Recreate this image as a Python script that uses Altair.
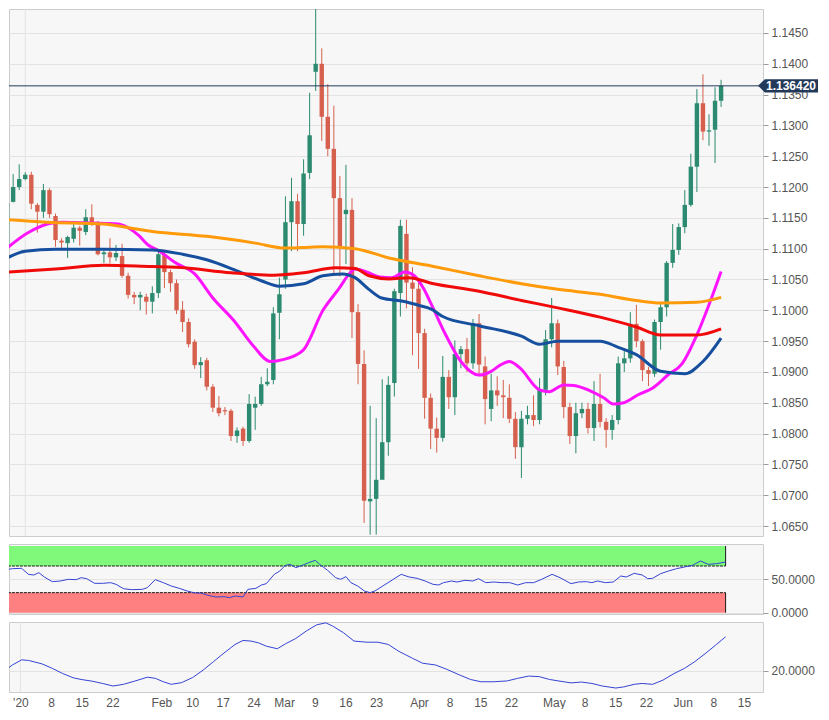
import json
import altair as alt
import pandas as pd

# ---------------- data (EUR/USD daily, 27 Dec 2019 - 10 Jun 2020) ----------------
opens = [1.1108, 1.1176, 1.1200, 1.1213, 1.1220, 1.1171, 1.1160, 1.1195, 1.1153, 1.1113,
         1.1109, 1.1116, 1.1134, 1.1127, 1.1151, 1.1141, 1.1091, 1.1094, 1.1086, 1.1088,
         1.1056, 1.1025, 1.1021, 1.1022, 1.1014, 1.1028, 1.1091, 1.1062, 1.1044, 1.1001,
         1.0981, 1.0949, 1.0911, 1.0919, 1.0876, 1.0842, 1.0838, 1.0837, 1.0796, 1.0808,
         1.0788, 1.0842, 1.0848, 1.0880, 1.0887, 1.0996, 1.1050, 1.1143, 1.1177, 1.1140,
         1.1223, 1.1387, 1.1400, 1.1314, 1.1262, 1.1182, 1.1156, 1.1163, 1.0997, 1.0913,
         1.0690, 1.0694, 1.0725, 1.0786, 1.0882, 1.1028, 1.1124, 1.1045, 1.1035, 1.0963,
         1.0858, 1.0808, 1.0793, 1.0892, 1.0859, 1.0929, 1.0937, 1.0914, 1.0979, 1.0909,
         1.0840, 1.0870, 1.0862, 1.0858, 1.0824, 1.0778, 1.0824, 1.0830, 1.0822, 1.0871,
         1.0953, 1.0979, 1.0908, 1.0843, 1.0796, 1.0833, 1.0840, 1.0809, 1.0848, 1.0819,
         1.0806, 1.0822, 1.0914, 1.0922, 1.0978, 1.0950, 1.0903, 1.0897, 1.0981, 1.1005,
         1.1077, 1.1098, 1.1135, 1.1171, 1.1233, 1.1336, 1.1290, 1.1293, 1.1340]
highs = [1.1188, 1.1221, 1.1237, 1.1224, 1.1225, 1.1174, 1.1205, 1.1198, 1.1157, 1.1117,
         1.1121, 1.1145, 1.1137, 1.1164, 1.1172, 1.1145, 1.1100, 1.1117, 1.1106, 1.1108,
         1.1061, 1.1030, 1.1030, 1.1027, 1.1039, 1.1095, 1.1096, 1.1066, 1.1050, 1.1015,
         1.0987, 1.0953, 1.0924, 1.0923, 1.0880, 1.0861, 1.0843, 1.0840, 1.0810, 1.0811,
         1.0864, 1.0860, 1.0892, 1.0906, 1.1005, 1.1053, 1.1185, 1.1215, 1.1189, 1.1245,
         1.1353, 1.1495, 1.1425, 1.1367, 1.1332, 1.1218, 1.1236, 1.1182, 1.1010, 1.0935,
         1.0845, 1.0825, 1.0888, 1.0893, 1.1035, 1.1147, 1.1147, 1.1070, 1.1045, 1.0970,
         1.0865, 1.0826, 1.0926, 1.0903, 1.0951, 1.0942, 1.0955, 1.0986, 1.0994, 1.0925,
         1.0897, 1.0893, 1.0887, 1.0880, 1.0835, 1.0837, 1.0845, 1.0862, 1.0890, 1.0968,
         1.1020, 1.0985, 1.0918, 1.0850, 1.0850, 1.0850, 1.0850, 1.0885, 1.0897, 1.0825,
         1.0830, 1.0925, 1.0935, 1.0997, 1.1009, 1.0953, 1.0908, 1.0985, 1.1010, 1.1080,
         1.1140, 1.1141, 1.1195, 1.1254, 1.1359, 1.1383, 1.1318, 1.1362, 1.1374]
lows = [1.1100, 1.1175, 1.1195, 1.1211, 1.1164, 1.1126, 1.1150, 1.1150, 1.1103, 1.1101,
        1.1085, 1.1110, 1.1105, 1.1122, 1.1137, 1.1089, 1.1077, 1.1076, 1.1080, 1.1053,
        1.1019, 1.1010, 1.1000, 1.0993, 1.0995, 1.1020, 1.1036, 1.1030, 1.0994, 1.0965,
        1.0940, 1.0905, 1.0890, 1.0870, 1.0835, 1.0828, 1.0830, 1.0788, 1.0785, 1.0780,
        1.0785, 1.0806, 1.0845, 1.0877, 1.0880, 1.0953, 1.1035, 1.1096, 1.1096, 1.1121,
        1.1213, 1.1356, 1.1275, 1.1250, 1.1059, 1.1055, 1.1075, 1.0955, 1.0880, 1.0655,
        1.0636, 1.0636, 1.0751, 1.0764, 1.0860, 1.0990, 1.1003, 1.0927, 1.0905, 1.0824,
        1.0775, 1.0769, 1.0787, 1.0840, 1.0830, 1.0906, 1.0900, 1.0905, 1.0893, 1.0815,
        1.0820, 1.0845, 1.0825, 1.0817, 1.0759, 1.0728, 1.0815, 1.0812, 1.0815, 1.0862,
        1.0940, 1.0895, 1.0825, 1.0783, 1.0768, 1.0825, 1.0800, 1.0788, 1.0810, 1.0777,
        1.0790, 1.0815, 1.0900, 1.0915, 1.0940, 1.0885, 1.0877, 1.0892, 1.0936, 1.0990,
        1.1069, 1.1090, 1.1125, 1.1168, 1.1192, 1.1276, 1.1267, 1.1239, 1.1330]
closes = [1.1174, 1.1200, 1.1213, 1.1220, 1.1173, 1.1160, 1.1195, 1.1156, 1.1114, 1.1110,
          1.1119, 1.1134, 1.1129, 1.1151, 1.1141, 1.1091, 1.1094, 1.1086, 1.1093, 1.1056,
          1.1025, 1.1021, 1.1025, 1.1014, 1.1028, 1.1091, 1.1062, 1.1044, 1.1000, 1.0981,
          1.0945, 1.0911, 1.0916, 1.0876, 1.0842, 1.0833, 1.0836, 1.0796, 1.0805, 1.0788,
          1.0848, 1.0848, 1.0880, 1.0884, 1.0995, 1.1026, 1.1143, 1.1177, 1.1140, 1.1222,
          1.1284, 1.1400, 1.1314, 1.1262, 1.1182, 1.1102, 1.1163, 1.0997, 1.0913, 1.0691,
          1.0694, 1.0725, 1.0786, 1.0879, 1.1031, 1.1137, 1.1045, 1.1035, 1.0963, 1.0858,
          1.0808, 1.0793, 1.0892, 1.0859, 1.0929, 1.0937, 1.0914, 1.0979, 1.0912, 1.0856,
          1.0870, 1.0862, 1.0859, 1.0824, 1.0778, 1.0824, 1.0830, 1.0822, 1.0871, 1.0953,
          1.0979, 1.0909, 1.0843, 1.0796, 1.0833, 1.0840, 1.0809, 1.0848, 1.0819, 1.0806,
          1.0822, 1.0914, 1.0922, 1.0978, 1.0950, 1.0903, 1.0897, 1.0981, 1.1005, 1.1077,
          1.1098, 1.1135, 1.1171, 1.1233, 1.1336, 1.1290, 1.1292, 1.1340, 1.13642]

last_price = 1.13642
last_label = "1.136420"
last_i = 118
year_i = 3

price_ticks = [1.0650, 1.0700, 1.0750, 1.0800, 1.0850, 1.0900, 1.0950, 1.1000, 1.1050,
               1.1100, 1.1150, 1.1200, 1.1250, 1.1300, 1.1350, 1.1400, 1.1450]
tick_idx = [3, 8, 13, 18, 26, 31, 36, 41, 46, 51, 56, 61, 68, 73, 78, 83, 90, 95, 100, 105, 111, 116, 121]
tick_lab = ["'20", "8", "15", "22", "Feb", "10", "17", "24", "Mar", "9", "16", "23",
            "Apr", "8", "15", "22", "May", "8", "15", "22", "Jun", "8", "15"]

# moving averages
ma20_i = [0, 3.3, 7, 9.3, 12.5, 16.3, 18.4, 20, 21.7, 23.3, 25, 27.7, 31, 34, 37.5, 40.7, 43.5, 45.6,
          48.9, 52.2, 54.9, 56.7, 57.5, 59.5, 61.6, 63.6, 65.7, 67.3, 68.9, 70, 72.5, 75, 78, 80,
          81.5, 83, 84.7, 88, 89.6, 92, 93.7, 96, 98.6, 100.2, 101.9, 104.3, 106.7, 109.2, 111.6,
          114, 116, 118]
ma20_v = [1.1101, 1.1125, 1.1141, 1.1143, 1.1142, 1.1141, 1.1140, 1.1134, 1.1122, 1.1106, 1.1097,
          1.1078, 1.1059, 1.1020, 1.0983, 1.0942, 1.0917, 1.0920, 1.0935, 1.1000, 1.1036, 1.1061,
          1.1067, 1.1062, 1.1054, 1.1053, 1.1062, 1.1056, 1.1034, 1.1012, 1.0960, 1.0917, 1.0895,
          1.0901, 1.0911, 1.0917, 1.0907, 1.0871, 1.0868, 1.0879, 1.0878, 1.0871, 1.0858, 1.0848,
          1.0850, 1.0863, 1.0874, 1.0895, 1.0914, 1.0960, 1.1009, 1.1063]
ma50_i = [0, 3, 8, 16, 24, 29, 33, 38, 42, 45, 49, 52.2, 55.4, 57.5, 59.8, 61.9, 65.2, 68.4, 70.1,
          72, 78, 85, 88, 91, 98, 101, 104, 108, 112, 115, 118]
ma50_v = [1.1085, 1.1096, 1.1099, 1.1099, 1.1098, 1.1091, 1.1082, 1.1064, 1.1048, 1.1039, 1.1043,
          1.1056, 1.1059, 1.1053, 1.1034, 1.1020, 1.1015, 1.1007, 1.1002, 1.0990, 1.0975, 1.0958,
          1.0945, 1.0950, 1.0950, 1.0940, 1.0928, 1.0901, 1.0897, 1.0917, 1.0955]
ma100_i = [0, 8, 16, 24, 28, 37, 44, 49, 54.3, 57.5, 59.8, 63.1, 66.4, 70.1, 78, 85, 91, 98, 104,
           108, 114, 118]
ma100_v = [1.1062, 1.1067, 1.1073, 1.1071, 1.1070, 1.1061, 1.1057, 1.1061, 1.1069, 1.1068, 1.1056,
           1.1051, 1.1053, 1.1044, 1.1031, 1.1016, 1.1004, 1.0989, 1.0973, 1.0960, 1.0960, 1.0970]
ma200_i = [0, 6.5, 16, 20, 24, 33, 41, 46, 49, 52.2, 57.5, 63.1, 70.1, 78, 85, 91, 98, 104, 108,
           114, 118]
ma200_v = [1.1147, 1.1143, 1.1140, 1.1134, 1.1128, 1.1120, 1.1109, 1.1101, 1.1102, 1.1103, 1.1100,
           1.1085, 1.1072, 1.1056, 1.1043, 1.1034, 1.1026, 1.1016, 1.1012, 1.1013, 1.1021]

# RSI panel
rsi_i = [0.0, 1.7, 3.2, 4.3, 5.2, 6.0, 6.9, 8.2, 9.5, 10.8, 12.1, 12.9, 13.8, 15.1, 16.4, 17.7, 18.6,
         19.8, 21.1, 22.9, 23.7, 25.0, 26.3, 27.6, 28.9, 30.2, 31.5, 32.4, 33.6, 34.9, 36.2, 37.1,
         38.0, 39.3, 40.1, 41.4, 42.3, 43.1, 44.4, 45.3, 46.2, 47.0, 47.9, 48.7, 50.0, 51.1, 51.8,
         53.1, 54.4, 55.2, 56.1, 56.9, 58.0, 59.1, 60.0, 60.8, 62.1, 63.8, 65.1, 66.4, 67.7, 69.0,
         70.3, 71.2, 72.0, 73.3, 74.2, 75.5, 76.8, 77.7, 78.9, 80.2, 81.5, 82.8, 84.1, 85.4, 86.7,
         88.0, 89.7, 91.0, 92.8, 94.0, 95.3, 96.2, 97.1, 98.4, 99.7, 100.9, 101.8, 103.1, 104.4,
         105.3, 106.1, 107.4, 108.7, 110.0, 111.3, 112.6, 113.9, 115.2, 116.5, 118.0]
rsi_v = [63.5, 66, 66.5, 57.5, 56.5, 60, 53.5, 46.5, 47.5, 50, 49.5, 52.5, 51, 44, 44, 45, 42.5, 36,
         34.5, 35, 37.5, 49.5, 45, 40, 36.5, 32.5, 29.5, 29.5, 26, 23.5, 24, 22.5, 25, 23.5, 35, 36.5,
         41.5, 43.5, 57.5, 62.5, 71, 72.5, 67.5, 70, 75, 78.5, 72.5, 63.5, 52.5, 50, 54, 45, 40, 32.5,
         30, 32.5, 40, 50, 57.5, 53.5, 51.5, 47.5, 42.5, 41.5, 45, 47.5, 46, 48.5, 47.5, 51, 45, 46,
         45, 45, 41.5, 45, 45, 50, 57.5, 52.5, 43.5, 46, 46.5, 45, 47.5, 45, 46, 55, 53.5, 59, 56.5,
         51, 51.5, 58.5, 62.5, 66, 68.5, 71, 77.5, 72.5, 73.5, 76]
band_lo = [70, 0]
band_hi = [100, 30]
band_edge = [70, 30]
band_name = ["overbought", "oversold"]

# ADX panel
adx_i = [0.0, 1.7, 3.2, 4.3, 6.5, 8.2, 9.9, 11.6, 12.9, 14.7, 16.4, 18.1, 19.8, 21.6, 23.7, 25.0,
         26.3, 27.6, 29.3, 31.1, 32.8, 34.5, 36.2, 38.0, 39.3, 40.6, 41.8, 43.1, 44.9, 46.2, 47.9,
         49.6, 51.3, 52.8, 53.9, 55.7, 57.4, 59.5, 61.3, 63.0, 64.7, 66.9, 68.6, 70.7, 72.5, 74.6,
         76.4, 78.1, 80.2, 82.4, 84.1, 85.9, 87.6, 89.3, 91.0, 92.8, 94.5, 96.2, 97.9, 100.1, 101.4,
         103.1, 104.4, 106.1, 107.8, 109.6, 111.3, 113.0, 114.8, 116.5, 118.0]
adx_v = [19.3, 22.0, 23.8, 23.6, 22.4, 20.8, 19.0, 17.5, 16.9, 16.3, 15.5, 14.6, 15.2, 16.3, 17.7,
         17.3, 16.1, 15.2, 15.8, 17.6, 20.2, 23.2, 26.2, 29.2, 30.6, 30.4, 29.8, 28.6, 27.7, 29.4,
         31.3, 33.9, 36.1, 36.8, 35.7, 33.3, 30.4, 30.0, 30.0, 29.2, 26.8, 24.4, 22.6, 22.0, 20.5,
         18.5, 16.9, 16.1, 16.1, 16.4, 17.3, 18.1, 17.9, 16.9, 16.3, 15.7, 16.0, 15.5, 14.6, 13.9,
         14.3, 15.2, 15.5, 15.2, 16.7, 19.0, 20.8, 23.2, 26.2, 29.2, 31.9]

# ---------------- styling ----------------
GREEN = "#2b8a6f"
RED = "#d6604d"
NAVY = "#22395a"
LINE_BLUE = "#3444d4"
GRID = "#e3e3e3"
LABEL = "#555555"
FONT = "Liberation Sans"

W = 754
H1 = 527
HS = 70

XS = alt.Scale(domain=[1.14, 124.1], nice=False, zero=False)
YS = alt.Scale(domain=[1.06338, 1.14889], nice=False, zero=False)
RS = alt.Scale(domain=[-2, 103], nice=False, zero=False)
AS = alt.Scale(domain=[12.5, 37.1], nice=False, zero=False)


def right_axis(values):
    return alt.Axis(orient="right", values=values, format=".4f", grid=True, gridColor=GRID,
                    domain=False, tickColor="#9a9a9a", tickSize=5, labelColor=LABEL,
                    labelFontSize=12, labelFont=FONT, labelPadding=3, labelOverlap=False,
                    labelBound=False, title=None)


YAX = right_axis(price_ticks)
RAX = right_axis([0, 50])
AAX = right_axis([20])

n = len(closes)
candles = pd.DataFrame({"i": list(range(n)), "open": opens, "high": highs,
                        "low": lows, "close": closes})
candles["dir"] = ["up" if c >= o else "down" for o, c in zip(opens, closes)]

xnone = alt.X("i:Q", scale=XS, axis=None, title=None)
dir_color = alt.Color("dir:N", scale=alt.Scale(domain=["up", "down"], range=[GREEN, RED]), legend=None)


def ymain(field):
    return alt.Y(field, scale=YS, axis=YAX, title=None)


year_df = pd.DataFrame({"i": [year_i]})
vline = alt.Chart(year_df).mark_rule(color=GRID, strokeWidth=1).encode(x=xnone)

wicks = alt.Chart(candles).mark_rule(strokeWidth=1, clip=True).encode(
    x=xnone, y=ymain("low:Q"), y2="high:Q", color=dir_color)
bodies = alt.Chart(candles).mark_bar(width=4.4, clip=True).encode(
    x=xnone, y=ymain("open:Q"), y2="close:Q", color=dir_color)


def ma_line(ix, vals, color):
    df = pd.DataFrame({"i": ix, "v": vals})
    return alt.Chart(df).mark_line(color=color, strokeWidth=3, interpolate="monotone", clip=True).encode(
        x=xnone, y=ymain("v:Q"))


ma200 = ma_line(ma200_i, ma200_v, "#ff9a0a")
ma100 = ma_line(ma100_i, ma100_v, "#f00a0a")
ma50 = ma_line(ma50_i, ma50_v, "#154f9e")
ma20 = ma_line(ma20_i, ma20_v, "#ff14ff")

last_df = pd.DataFrame({"p": [last_price], "label": [last_label]})
price_rule = alt.Chart(last_df).mark_rule(color=NAVY, strokeWidth=1).encode(y=ymain("p:Q"))
tag_shape = "M -1 0 L -0.77 -0.22 L 1 -0.22 L 1 0.22 L -0.77 0.22 Z"
price_tag = alt.Chart(last_df).mark_point(shape=tag_shape, size=3600, filled=True, opacity=1,
                                          color=NAVY, strokeWidth=0).encode(
    x=alt.value(W + 25), y=ymain("p:Q"))
price_txt = alt.Chart(last_df).mark_text(color="white", fontWeight="bold", fontSize=12, font=FONT,
                                         align="center", baseline="middle").encode(
    x=alt.value(W + 28), y=ymain("p:Q"), text="label:N")

main = alt.layer(vline, wicks, bodies, ma20, ma50, ma100, ma200, price_rule, price_tag, price_txt
                 ).properties(width=W, height=H1)

# ---- RSI panel ----
bands = pd.DataFrame({"x0": [-1, -1], "x1": [last_i, last_i], "lo": band_lo, "hi": band_hi,
                      "edge": band_edge, "b": band_name})
band_rect = alt.Chart(bands).mark_rect(clip=True).encode(
    x=alt.X("x0:Q", scale=XS, axis=None, title=None), x2="x1:Q",
    y=alt.Y("lo:Q", scale=RS, axis=RAX, title=None), y2="hi:Q",
    color=alt.Color("b:N", scale=alt.Scale(domain=band_name, range=["#80f97b", "#ff8080"]), legend=None),
)
band_edge_h = alt.Chart(bands).mark_rule(color="#1a1a1a", strokeWidth=1, strokeDash=[3, 1], clip=True).encode(
    x=alt.X("x0:Q", scale=XS, axis=None, title=None), x2="x1:Q",
    y=alt.Y("edge:Q", scale=RS, axis=RAX, title=None))
band_edge_v = alt.Chart(bands).mark_rule(color="#1a1a1a", strokeWidth=1).encode(
    x=alt.X("x1:Q", scale=XS, axis=None, title=None),
    y=alt.Y("lo:Q", scale=RS, axis=RAX, title=None), y2="hi:Q")
rsi_df = pd.DataFrame({"i": rsi_i, "v": rsi_v})
rsi_line = alt.Chart(rsi_df).mark_line(color=LINE_BLUE, strokeWidth=1, clip=True).encode(
    x=xnone, y=alt.Y("v:Q", scale=RS, axis=RAX, title=None))
rsi = alt.layer(band_rect, band_edge_h, band_edge_v, rsi_line).properties(width=W, height=HS)

# ---- ADX panel ----
label_expr = f"{json.dumps(tick_lab)}[indexof({json.dumps(tick_idx)}, datum.value)]"
xaxis = alt.Axis(values=tick_idx, labelExpr=label_expr, grid=False, ticks=False, domain=False,
                 labelColor=LABEL, labelFontSize=12, labelFont=FONT, labelPadding=5,
                 labelFlush=False, labelOverlap=False, title=None)
xbottom = alt.X("i:Q", scale=XS, axis=xaxis, title=None)
adx_df = pd.DataFrame({"i": adx_i, "v": adx_v})
adx_vline = alt.Chart(year_df).mark_rule(color=GRID, strokeWidth=1).encode(x=xbottom)
adx_line = alt.Chart(adx_df).mark_line(color=LINE_BLUE, strokeWidth=1, clip=True).encode(
    x=xbottom, y=alt.Y("v:Q", scale=AS, axis=AAX, title=None))
adx = alt.layer(adx_vline, adx_line).properties(width=W, height=HS)

chart = alt.vconcat(main, rsi, adx, spacing=8, bounds="flush").resolve_scale(
    x="independent", y="independent", color="independent"
).properties(background="white", padding=0).configure_view(
    fill="#f7f7f7", stroke="#cccccc", strokeWidth=1
).configure_axis(labelOverlap=False)

chart.save("out.html", embed_options={"renderer": "svg", "actions": False})
